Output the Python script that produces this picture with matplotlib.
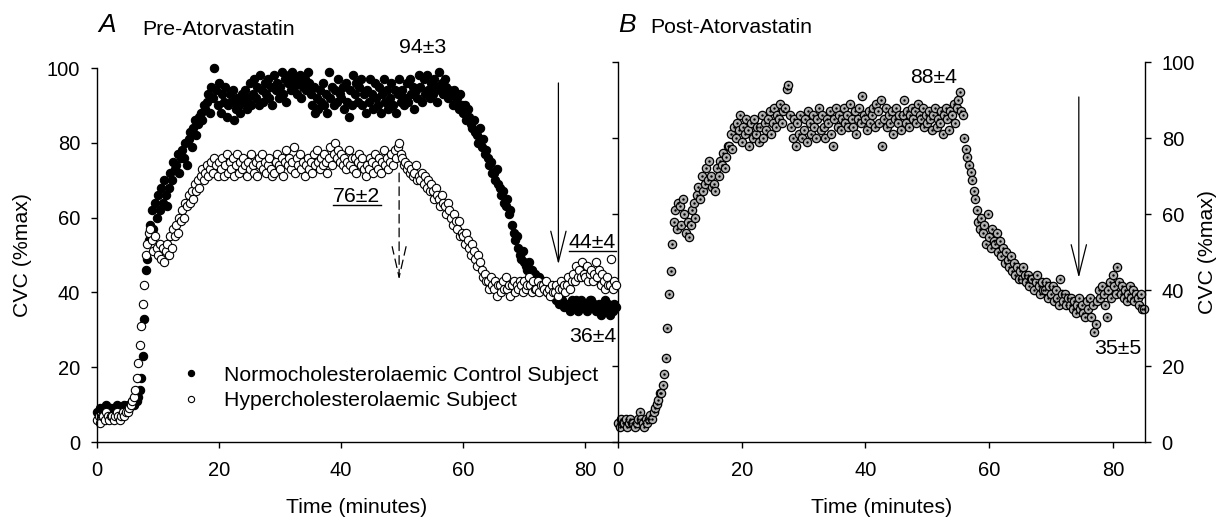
import numpy as np
import matplotlib
matplotlib.use("Agg")
import matplotlib.pyplot as plt
from matplotlib.lines import Line2D

plt.rcParams['font.family'] = ['Liberation Sans', 'DejaVu Sans']

# sampling grid of the recordings (minutes)
minutes = np.arange(0, 85.01, 0.25)

# Pre-Atorvastatin, normocholesterolaemic control subject (%max)
normo = [
    8, 7, 9, 8, 9, 8, 10, 9, 8, 9, 8, 9, 9, 10, 8, 9, 9, 8, 10, 9,
    10, 9, 10, 11, 10, 11, 11, 12, 14, 17, 23, 33, 46, 49, 54, 58, 62, 57, 64, 60,
    66, 62, 68, 64, 70, 66, 63, 68, 72, 70, 75, 73, 74, 77, 72, 76, 78, 76, 80, 74,
    81, 83, 79, 84, 86, 82, 85, 87, 88, 86, 90, 89, 91, 93, 88, 95, 92, 100, 94, 90,
    96, 88, 93, 91, 95, 87, 90, 93, 91, 94, 86, 89, 92, 90, 88, 93, 91, 94, 89, 92,
    96, 90, 93, 97, 92, 95, 90, 98, 94, 91, 96, 93, 97, 92, 95, 90, 98, 94, 96, 92,
    95, 99, 93, 97, 91, 96, 98, 94, 99, 95, 97, 93, 96, 98, 92, 95, 97, 94, 99, 96,
    93, 90, 95, 88, 92, 89, 94, 91, 96, 90, 93, 88, 99, 92, 95, 90, 94, 91, 97, 93,
    92, 95, 89, 96, 91, 87, 94, 90, 98, 93, 96, 91, 95, 97, 90, 93, 88, 94, 91, 97,
    93, 89, 96, 92, 90, 95, 88, 93, 97, 91, 94, 89, 92, 96, 90, 94, 88, 93, 97, 91,
    94, 90, 92, 96, 91, 97, 93, 95, 89, 94, 92, 98, 95, 91, 97, 93, 98, 94, 92, 96,
    93, 97, 95, 91, 99, 94, 96, 93, 97, 95, 92, 94, 93, 90, 94, 91, 92, 89, 93, 90,
    88, 90, 86, 89, 87, 85, 84, 86, 83, 82, 80, 84, 79, 81, 77, 78, 76, 74, 75, 72,
    72, 70, 73, 69, 68, 66, 67, 64, 63, 65, 61, 62, 58, 56, 54, 55, 52, 50, 49, 51,
    48, 47, 46, 48, 45, 46, 44, 45, 44, 43, 44, 42, 43, 41, 42, 40, 41, 40, 39, 41,
    39, 38, 40, 37, 37, 38, 36, 37, 36, 37, 35, 38, 37, 36, 38, 35, 36, 38, 37, 36,
    37, 35, 36, 38, 38, 36, 37, 35, 36, 37, 34, 37, 35, 38, 36, 37, 34, 36, 35, 37,
    36,
]

# Pre-Atorvastatin, hypercholesterolaemic subject (%max)
hyper = [
    6, 7, 5, 7, 7, 6, 8, 7, 6, 7, 7, 6, 7, 8, 7, 6, 7, 8, 7, 8,
    8, 9, 10, 11, 12, 14, 17, 21, 26, 31, 37, 42, 50, 53, 56, 57, 54, 51, 55, 52,
    50, 53, 49, 52, 48, 51, 53, 50, 55, 52, 57, 55, 58, 56, 60, 59, 62, 60, 64, 63,
    66, 64, 67, 65, 69, 67, 70, 68, 71, 73, 70, 72, 74, 71, 73, 75, 72, 76, 74, 71,
    75, 73, 76, 71, 74, 77, 72, 75, 73, 76, 71, 74, 77, 72, 75, 73, 76, 74, 71, 75,
    73, 77, 74, 72, 75, 71, 76, 74, 77, 73, 75, 72, 74, 76, 73, 71, 72, 75, 77, 74,
    73, 76, 71, 75, 78, 74, 76, 73, 75, 79, 72, 76, 74, 77, 73, 75, 71, 74, 76, 73,
    75, 72, 77, 74, 78, 75, 73, 76, 74, 77, 75, 72, 76, 79, 74, 77, 80, 76, 78, 75,
    77, 74, 76, 73, 75, 78, 74, 76, 73, 76, 72, 75, 77, 74, 76, 73, 71, 74, 73, 76,
    75, 72, 77, 74, 73, 76, 72, 75, 78, 74, 76, 73, 75, 77, 74, 78, 76, 79, 80, 77,
    76, 74, 75, 73, 74, 72, 73, 71, 72, 74, 70, 71, 70, 72, 69, 71, 68, 70, 67, 69,
    67, 65, 68, 66, 65, 63, 66, 64, 63, 61, 64, 62, 60, 58, 61, 59, 57, 59, 55, 56,
    55, 53, 56, 54, 52, 50, 53, 51, 49, 47, 50, 48, 46, 44, 45, 43, 43, 41, 44, 42,
    41, 43, 39, 42, 42, 40, 43, 41, 44, 41, 42, 39, 42, 43, 40, 42, 41, 43, 42, 40,
    43, 41, 42, 44, 42, 40, 43, 41, 41, 43, 40, 42, 42, 41, 43, 40, 41, 39, 42, 40,
    40, 42, 39, 41, 43, 41, 42, 40, 42, 44, 41, 43, 45, 43, 47, 44, 46, 44, 48, 45,
    44, 47, 43, 45, 46, 43, 45, 48, 44, 46, 42, 45, 43, 41, 44, 42, 42, 49, 41, 43,
    42,
]

# Post-Atorvastatin, hypercholesterolaemic subject (%max)
post = [
    5, 4, 6, 5, 5, 6, 4, 5, 6, 5, 5, 4, 5, 6, 8, 6, 5, 4, 6, 5,
    6, 7, 6, 8, 9, 10, 11, 13, 13, 15, 18, 22, 30, 39, 45, 52, 58, 61, 56, 63,
    62, 57, 64, 60, 55, 58, 54, 57, 61, 63, 59, 65, 67, 64, 70, 66, 68, 72, 69, 74,
    70, 67, 68, 66, 72, 70, 74, 73, 76, 72, 75, 78, 78, 81, 77, 83, 80, 84, 82, 86,
    79, 83, 81, 85, 82, 78, 84, 80, 85, 81, 83, 79, 83, 86, 80, 84, 82, 85, 87, 81,
    84, 88, 83, 86, 85, 89, 84, 87, 88, 93, 94, 86, 83, 80, 85, 78, 84, 81, 86, 80,
    82, 85, 79, 87, 84, 81, 86, 83, 80, 85, 88, 82, 86, 83, 80, 85, 84, 87, 81, 78,
    85, 88, 83, 86, 82, 85, 88, 84, 86, 83, 89, 85, 83, 87, 81, 85, 88, 84, 91, 86,
    85, 82, 87, 84, 86, 88, 83, 89, 87, 84, 90, 78, 85, 88, 83, 86, 84, 87, 81, 85,
    88, 84, 86, 82, 86, 90, 84, 87, 83, 86, 88, 85, 87, 84, 89, 86, 85, 88, 83, 86,
    84, 87, 85, 82, 86, 88, 83, 85, 84, 87, 81, 86, 88, 85, 82, 87, 86, 89, 84, 88,
    90, 92, 87, 86, 80, 77, 75, 73, 71, 69, 66, 64, 61, 58, 56, 59, 55, 57, 52, 60,
    54, 51, 56, 53, 52, 55, 50, 53, 49, 51, 47, 50, 48, 46, 49, 45, 47, 44, 46, 43,
    45, 43, 46, 44, 42, 44, 41, 43, 43, 40, 42, 44, 41, 39, 42, 40, 40, 42, 38, 41,
    39, 41, 37, 40, 38, 36, 43, 39, 37, 39, 36, 38, 36, 38, 35, 37, 34, 36, 38, 35,
    36, 34, 33, 37, 35, 38, 33, 36, 29, 31, 37, 40, 38, 41, 39, 36, 33, 40, 42, 38,
    44, 41, 39, 46, 42, 39, 41, 38, 40, 37, 39, 41, 38, 40, 37, 39, 38, 36, 39, 35,
    35,
]

xticks = [0, 20, 40, 60, 80]
yticks = [0, 20, 40, 60, 80, 100]

fs = 15.3     # text
tfs = 14.5    # tick labels
W, H = 1224, 521
fig = plt.figure(figsize=(W / 100, H / 100), dpi=100)
axA = fig.add_axes([97 / W, (H - 442) / H, 520 / W, 374 / H])
axB = fig.add_axes([618 / W, (H - 442) / H, 527 / W, 380 / H])

for ax in (axA, axB):
    ax.set_xlim(0, 85.2)
    ax.set_ylim(0, 100)
    ax.set_xticks(xticks)
    ax.set_yticks(yticks)
    ax.spines['top'].set_visible(False)
    ax.tick_params(direction='out', length=4, width=1, labelsize=tfs, pad=8)
    ax.tick_params(axis='x', pad=10)
    ax.patch.set_visible(False)
    for s in ax.spines.values():
        s.set_linewidth(1)
    ax.set_xlabel('Time (minutes)', fontsize=fs)

axA.spines['right'].set_visible(False)
axB.set_zorder(-1)

arrow_solid = dict(arrowstyle='->,head_length=2.2,head_width=0.55', lw=0.9,
                   color='black', shrinkA=0, shrinkB=0, mutation_scale=10)

# panel A
lnN, = axA.plot(minutes, normo, 'o', ms=6, mfc='black', mec='black', mew=0.8,
                label='Normocholesterolaemic Control Subject', clip_on=False)
lnH, = axA.plot(minutes, hyper, 'o', ms=6, mfc='white', mec='black', mew=0.8,
                label='Hypercholesterolaemic Subject', clip_on=False)
axA.set_ylabel('CVC (%max)', fontsize=fs)
axA.yaxis.set_label_coords(-0.125, 0.5)
axA.xaxis.set_label_coords(0.5, -0.15)

axA.text(0.2, 109.6, 'A', fontsize=19, style='italic', clip_on=False)
axA.text(7.4, 108.8, 'Pre-Atorvastatin', fontsize=fs, clip_on=False)
axA.text(53.3, 104, '94±3', fontsize=fs, ha='center', clip_on=False)
t76 = axA.text(42.6, 64.2, '76±2', fontsize=fs, ha='center')
t44 = axA.text(81.2, 51.9, '44±4', fontsize=fs, ha='center', clip_on=False)
axA.text(81.2, 26.8, '36±4', fontsize=fs, ha='center', clip_on=False)

axA.annotate('', xy=(75.6, 47.5), xytext=(75.6, 96), arrowprops=arrow_solid)
axA.annotate('', xy=(49.5, 43.3), xytext=(49.5, 71.9),
             arrowprops=dict(arrow_solid, arrowstyle='->,head_length=2.2,head_width=0.5',
                             linestyle=(0, (7, 4))))

leg = axA.legend(handles=[lnN, lnH], loc='lower left', bbox_to_anchor=(0.162, 0.085),
                 frameon=False, fontsize=fs, markerscale=0.75, handlelength=0.9,
                 handletextpad=1.1, labelspacing=0.3, borderpad=0, borderaxespad=0)

# panel B
axB.plot(minutes, post, 'o', ms=6, mfc='#b0b0b0', mec='black', mew=0.9, clip_on=False)
axB.plot(minutes, post, '.', ms=1.5, color='black', clip_on=False)
axB.yaxis.tick_right()
axB.tick_params(axis='y', which='both', left=True, labelleft=False)
axB.yaxis.set_label_position('right')
axB.set_ylabel('CVC (%max)', fontsize=fs)
axB.yaxis.set_label_coords(1.1, 0.5)
axB.xaxis.set_label_coords(0.5, -0.148)

axB.text(0, 108, 'B', fontsize=19, style='italic', clip_on=False)
axB.text(5.2, 107.5, 'Post-Atorvastatin', fontsize=fs, clip_on=False)
axB.text(51.0, 94.6, '88±4', fontsize=fs, ha='center')
axB.text(80.8, 23.2, '35±5', fontsize=fs, ha='center', clip_on=False)
axB.annotate('', xy=(74.5, 43.2), xytext=(74.5, 90.8), arrowprops=arrow_solid)

# underline the two labelled means
fig.canvas.draw()
rend = fig.canvas.get_renderer()
inv = fig.transFigure.inverted()
for t in (t76, t44):
    bb = t.get_window_extent(rend)
    (x0, y0), (x1, _) = inv.transform([(bb.x0, bb.y0 + 1), (bb.x1, bb.y0 + 1)])
    fig.add_artist(Line2D([x0, x1], [y0, y0], transform=fig.transFigure,
                          color='black', lw=1))

fig.savefig('out.png', dpi=100)
